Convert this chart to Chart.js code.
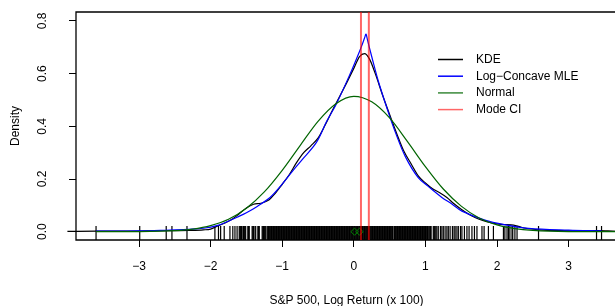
<!DOCTYPE html>
<html>
<head>
<meta charset="utf-8">
<script src="https://cdn.jsdelivr.net/npm/chart.js@4/dist/chart.umd.min.js"></script>
<style>
  html, body { margin: 0; padding: 0; background: #fff; overflow: hidden; }
  canvas { display: block; }
</style>
</head>
<body>
<canvas id="densityChart" width="640" height="306"></canvas>
<script>
// ===== Data =====
const kdeX = [-4.0, -3.6, -3.2, -2.9, -2.6, -2.3, -2.1, -2.0, -1.9, -1.8, -1.7, -1.6, -1.5, -1.4, -1.3, -1.2, -1.1, -1.0,
  -0.9, -0.8, -0.7, -0.6, -0.5, -0.4, -0.3, -0.2, -0.1, 0.0, 0.08, 0.15, 0.22, 0.3, 0.4, 0.5, 0.6, 0.7, 0.8, 0.9,
  1.0, 1.1, 1.2, 1.3, 1.4, 1.5, 1.6, 1.7, 1.8, 1.9, 2.0, 2.1, 2.2, 2.3, 2.4, 2.6, 2.9, 3.2, 3.4, 3.55, 3.75];
const kdeY = [0.001, 0.002, 0.002, 0.003, 0.004, 0.005, 0.007, 0.010, 0.022, 0.033, 0.047, 0.068, 0.090, 0.104, 0.108, 0.118, 0.145, 0.180,
  0.217, 0.262, 0.300, 0.326, 0.355, 0.405, 0.460, 0.512, 0.565, 0.620, 0.665, 0.676, 0.655, 0.600, 0.520, 0.445, 0.372, 0.305, 0.258, 0.212,
  0.185, 0.163, 0.148, 0.130, 0.106, 0.085, 0.067, 0.053, 0.043, 0.035, 0.030, 0.027, 0.026, 0.020, 0.013, 0.007, 0.004, 0.003, 0.004, 0.003, 0.001];

const lcdX = [-3.6, -3.0, -2.57, -2.3, -2.1, -1.9, -1.77, -1.63, -1.5, -1.355, -1.17, -1.03, -0.85, -0.7, -0.52, -0.377, -0.24,
  -0.05, 0.088, 0.15, 0.17, 0.19, 0.25, 0.344, 0.48, 0.577, 0.72, 0.9, 1.04, 1.23, 1.37, 1.51, 1.83, 2.1, 2.44, 3.0, 3.46];
const lcdY = [0.002, 0.003, 0.0065, 0.009, 0.013, 0.024, 0.038, 0.055, 0.072, 0.095, 0.130, 0.171, 0.232, 0.280, 0.340, 0.420, 0.487,
  0.600, 0.690, 0.735, 0.750, 0.729, 0.665, 0.570, 0.455, 0.380, 0.285, 0.205, 0.172, 0.130, 0.105, 0.078, 0.044, 0.027, 0.013, 0.006, 0.003];

const normX = [-3.6, -3.0, -2.5, -2.25, -2.0, -1.75, -1.5, -1.25, -1.0, -0.75, -0.5, -0.25, 0.0, 0.25, 0.5, 0.75,
  1.0, 1.25, 1.5, 1.75, 2.0, 2.25, 2.5, 3.0, 3.68];
const normY = [0.0, 0.0005, 0.004, 0.010, 0.023, 0.047, 0.089, 0.151, 0.233, 0.327, 0.419, 0.486, 0.514, 0.493, 0.432, 0.342,
  0.247, 0.162, 0.097, 0.052, 0.026, 0.012, 0.005, 0.0006, 0.0];

// Mode confidence interval and the two marks on the axis
const ciX = [0.10, 0.21];
const markX = [0.01, 0.08];
const markY = [0, 0];

// Observations (rug)
const rugX = [-3.60, -2.99, -2.62, -2.54, -2.33, -1.94, -1.89, -1.86, -1.81, -1.73, -1.69, -1.66, -1.63,
  -1.60, -1.58, -1.56, -1.54, -1.52, -1.48, -1.46, -1.42, -1.40, -1.38, -1.34, -1.32, -1.28, -1.26,
  -1.24, -1.20, -1.18, -1.16, -1.14, -1.12, -1.10, -1.08, -1.06, -1.04, -1.02, -1.00, -0.98, -0.96, -0.94,
  -0.92, -0.90, -0.88, -0.86, -0.84, -0.82, -0.80, -0.78, -0.76, -0.74, -0.72, -0.70, -0.68, -0.66, -0.64,
  -0.62, -0.60, -0.58, -0.56, -0.54, -0.52, -0.50, -0.48, -0.46, -0.44, -0.42, -0.40, -0.38, -0.36, -0.34,
  -0.32, -0.30, -0.28, -0.26, -0.24, -0.22, -0.20, -0.18, -0.16, -0.14, -0.12, -0.10, -0.08, -0.06, -0.04,
  -0.02, 0.00, 0.02, 0.04, 0.06, 0.08, 0.10, 0.12, 0.14, 0.16, 0.18, 0.20, 0.22, 0.24, 0.26, 0.28, 0.30,
  0.32, 0.34, 0.36, 0.38, 0.40, 0.42, 0.44, 0.46, 0.48, 0.50, 0.52, 0.54, 0.56, 0.58, 0.60, 0.62, 0.64,
  0.66, 0.68, 0.70, 0.72, 0.74, 0.76, 0.78, 0.80, 0.82, 0.84, 0.86, 0.88, 0.90, 0.92, 0.94, 0.96, 0.98, 1.00,
  1.02, 1.04, 1.06, 1.08, 1.11, 1.13, 1.145, 1.16, 1.18, 1.21, 1.23, 1.25, 1.275, 1.30, 1.32, 1.345, 1.377,
  1.40, 1.415, 1.44, 1.46, 1.49, 1.51, 1.545, 1.58, 1.61, 1.65, 1.685, 1.72, 1.79, 1.82, 1.88, 1.95,
  2.09, 2.11, 2.14, 2.16, 2.18, 2.21, 2.22, 2.25, 2.28, 2.58, 3.39, 3.46,
  // second half of the dense block
  -1.59, -1.57, -1.53, -1.51, -1.47, -1.41, -1.37, -1.33, -1.27, -1.25, -1.23, -1.21, -1.19, -1.17, -1.15,
  -1.13, -1.11, -1.09, -1.07, -1.05, -1.03, -1.01, -0.99, -0.97, -0.95, -0.93, -0.91, -0.89, -0.87, -0.85,
  -0.83, -0.81, -0.79, -0.77, -0.75, -0.73, -0.71, -0.69, -0.67, -0.65, -0.63, -0.61, -0.59, -0.57, -0.55,
  -0.53, -0.51, -0.49, -0.47, -0.45, -0.43, -0.41, -0.39, -0.37, -0.35, -0.33, -0.31, -0.29, -0.27, -0.25,
  -0.23, -0.21, -0.19, -0.17, -0.15, -0.13, -0.11, -0.09, -0.07, -0.05, -0.03, -0.01, 0.01, 0.03, 0.05,
  0.07, 0.09, 0.11, 0.13, 0.15, 0.17, 0.19, 0.21, 0.23, 0.25, 0.27, 0.29, 0.31, 0.33, 0.35, 0.37, 0.39,
  0.41, 0.43, 0.45, 0.47, 0.49, 0.51, 0.53, 0.57, 0.59, 0.61, 0.63, 0.65, 0.67, 0.69, 0.71, 0.73, 0.75,
  0.77, 0.79, 0.81, 0.83, 0.85, 0.87, 0.89, 0.91, 0.93, 0.95, 0.97, 0.99, 1.01, 1.03, 1.07, 1.12];
const rugY = -0.005;

// Axes
const xTicks = [-3, -2, -1, 0, 1, 2, 3];
const xTickLabels = ["\u22123", "\u22122", "\u22121", "0", "1", "2", "3"];
const yTicks = [0, 0.2, 0.4, 0.6, 0.8];
const yTickLabels = ["0.0", "0.2", "0.4", "0.6", "0.8"];
const xLimits = [-3.88, 3.676];
const yLimits = [-0.0315, 0.834];

const xTitle = "S&P 500, Log Return (x 100)";
const yTitle = "Density";

// ===== Helpers =====
const FONT = "'Liberation Sans', Arial, Helvetica, sans-serif";

function toPoints(xs, ys) {
    return xs.map((x, i) => ({ x: x, y: ys[i] }));
}

function ciLine(x) {
    return [{ x: x, y: yLimits[0] }, { x: x, y: yLimits[1] }];
}

// R style frame, traced along the axis limits
function boxPath() {
    return [
        { x: xLimits[1], y: yLimits[0] },
        { x: xLimits[0], y: yLimits[0] },
        { x: xLimits[0], y: yLimits[1] },
        { x: xLimits[1], y: yLimits[1] }
    ];
}

// ===== Plugin: rotated y labels and legend =====
const rStylePlugin = {
    id: "rStyle",
    afterDraw(chart) {
        const ctx = chart.ctx;
        const yScale = chart.scales.y;

        ctx.save();
        ctx.fillStyle = "#000000";
        ctx.font = "12px " + FONT;
        ctx.textAlign = "center";
        ctx.textBaseline = "middle";
        yTicks.forEach((v, i) => {
            ctx.save();
            ctx.translate(43, yScale.getPixelForValue(v));
            ctx.rotate(-Math.PI / 2);
            ctx.fillText(yTickLabels[i], 0, 0);
            ctx.restore();
        });

        // legend, no frame
        const items = chart.data.datasets.filter(d => d.showInLegend);
        ctx.textAlign = "left";
        items.forEach((d, i) => {
            const y = 59.5 + i * 16.7;
            ctx.strokeStyle = d.legendColor || d.borderColor;
            ctx.lineWidth = 1.5;
            ctx.beginPath();
            ctx.moveTo(438, y);
            ctx.lineTo(463, y);
            ctx.stroke();
            ctx.fillText(d.label, 476, y);
        });
        ctx.restore();
    }
};

// ===== Chart =====
const ctx = document.getElementById("densityChart").getContext("2d");
new Chart(ctx, {
    type: "line",
    data: {
        datasets: [
            {
                label: "KDE",
                showInLegend: true,
                data: toPoints(kdeX, kdeY),
                borderColor: "#000000",
                borderWidth: 1.2,
                pointRadius: 0,
                cubicInterpolationMode: "monotone",
                clip: false,
                order: 5
            },
            {
                label: "Log\u2212Concave MLE",
                showInLegend: true,
                data: toPoints(lcdX, lcdY),
                borderColor: "#0000ff",
                borderWidth: 1.2,
                pointRadius: 0,
                tension: 0.35,
                order: 4
            },
            {
                label: "Normal",
                showInLegend: true,
                data: toPoints(normX, normY),
                borderColor: "#006400",
                legendColor: "#3a8a3a",
                borderWidth: 1.2,
                pointRadius: 0,
                cubicInterpolationMode: "monotone",
                order: 3
            },
            {
                label: "Mode CI",
                showInLegend: true,
                data: ciLine(ciX[0]),
                borderColor: "rgba(255, 0, 0, 0.6)",
                borderWidth: 2,
                pointRadius: 0,
                order: 1
            },
            {
                label: "",
                data: ciLine(ciX[1]),
                borderColor: "rgba(255, 0, 0, 0.6)",
                borderWidth: 2,
                pointRadius: 0,
                order: 1
            },
            {
                label: "",
                data: toPoints(markX, markY),
                showLine: false,
                pointStyle: "rectRot",
                pointRadius: 3.6,
                pointBorderWidth: 1,
                pointBorderColor: "#008000",
                pointBackgroundColor: "rgba(0,0,0,0)",
                order: 2
            },
            {
                label: "",
                data: rugX.map(x => ({ x: x, y: rugY })),
                showLine: false,
                pointStyle: "line",
                pointRotation: 90,
                pointRadius: 7,
                pointBorderWidth: 1.2,
                pointBorderColor: "#000000",
                order: 6
            },
            {
                label: "",
                data: boxPath(),
                borderColor: "#000000",
                borderWidth: 1.3,
                pointRadius: 0,
                tension: 0,
                clip: false,
                order: 7
            }
        ]
    },
    options: {
        responsive: false,
        animation: false,
        events: [],
        devicePixelRatio: 1,
        layout: { padding: { left: 0, right: 23, top: 12, bottom: 0 } },
        plugins: {
            legend: { display: false },
            tooltip: { enabled: false }
        },
        scales: {
            x: {
                type: "linear",
                position: "bottom",
                min: xLimits[0],
                max: xLimits[1],
                afterBuildTicks: scale => { scale.ticks = xTicks.map(v => ({ value: v })); },
                afterFit: scale => { scale.height = 66; },
                border: { display: false },
                grid: { display: true, drawOnChartArea: false, drawTicks: true, tickLength: 7, color: "#000" },
                ticks: {
                    color: "#000",
                    font: { family: FONT, size: 12 },
                    padding: 12,
                    maxRotation: 0,
                    autoSkip: false,
                    callback: value => {
                        const i = xTicks.indexOf(value);
                        return i >= 0 ? xTickLabels[i] : "";
                    }
                },
                title: {
                    display: true,
                    text: xTitle,
                    color: "#000",
                    font: { family: FONT, size: 12 },
                    padding: { top: 0, bottom: -2 }
                }
            },
            y: {
                type: "linear",
                position: "left",
                min: yLimits[0],
                max: yLimits[1],
                afterBuildTicks: scale => { scale.ticks = yTicks.map(v => ({ value: v })); },
                afterFit: scale => { scale.width = 76; },
                border: { display: false },
                grid: { display: true, drawOnChartArea: false, drawTicks: true, tickLength: 7, color: "#000" },
                ticks: { display: false },
                title: {
                    display: true,
                    text: yTitle,
                    color: "#000",
                    font: { family: FONT, size: 12 },
                    padding: { top: 8, bottom: 0 }
                }
            }
        }
    },
    plugins: [rStylePlugin]
});
</script>
</body>
</html>
